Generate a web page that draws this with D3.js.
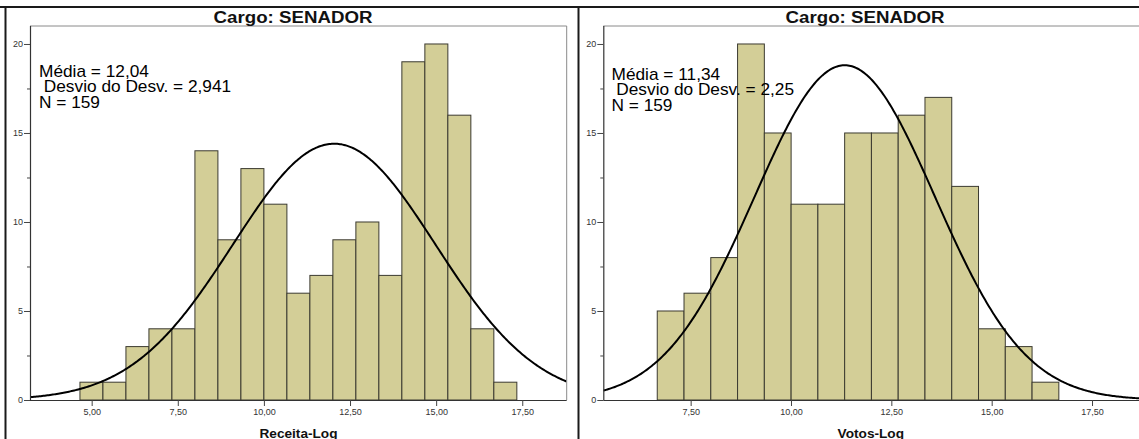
<!DOCTYPE html>
<html>
<head>
<meta charset="utf-8">
<script src="https://cdn.jsdelivr.net/npm/d3@7"></script>
<style>
  body { margin: 0; background: #fff; }
  svg { display: block; }
  text { font-family: "Liberation Sans", Arial, sans-serif; }
</style>
</head>
<body>
<svg id="chart" width="1139" height="439"></svg>
<script>
// ---- Receita-Log histogram (Cargo: SENADOR) ----
const receitaCounts = [1, 1, 3, 4, 4, 14, 9, 13, 11, 6, 7, 9, 10, 7, 19, 20, 16, 4, 1];
const receitaBinStart = 4.66;
const receitaBinWidth = 0.6675;
const receitaRange = [3.21, 18.79];
const receitaMean = 12.04;
const receitaSd = 2.941;
const receitaN = 159;
const receitaStatsText = ["Média = 12,04", " Desvio do Desv. = 2,941", "N = 159"];
const receitaTicks = [5, 7.5, 10, 12.5, 15, 17.5];

// ---- Votos-Log histogram (Cargo: SENADOR) ----
const votosCounts = [5, 6, 8, 20, 15, 11, 11, 15, 15, 16, 17, 12, 4, 3, 1];
const votosBinStart = 6.668;
const votosBinWidth = 0.667;
const votosRange = [5.324, 18.72];
const votosMean = 11.34;
const votosSd = 2.25;
const votosN = 159;
const votosStatsText = ["Média = 11,34", " Desvio do Desv. = 2,25", "N = 159"];
const votosTicks = [7.5, 10, 12.5, 15, 17.5];

// ---- shared frequency axis ----
const yMajorTicks = [0, 5, 10, 15, 20];
const yMinorTicks = [2.5, 7.5, 12.5, 17.5];
const yMax = 21.01;
const panelTitle = "Cargo: SENADOR";

const ptBR = d3.formatLocale({ decimal: ",", thousands: ".", grouping: [3], currency: ["R$", ""] });
const fmt2 = ptBR.format(".2f");

const svg = d3.select("#chart");

// outer frame of the two-panel output
svg.append("line").attr("x1", 0).attr("x2", 1139).attr("y1", 7).attr("y2", 7)
  .attr("stroke", "#1a1a1a").attr("stroke-width", 2);
svg.append("line").attr("x1", 5.5).attr("x2", 5.5).attr("y1", 6).attr("y2", 439)
  .attr("stroke", "#1a1a1a").attr("stroke-width", 2);
svg.append("line").attr("x1", 578.5).attr("x2", 578.5).attr("y1", 6).attr("y2", 439)
  .attr("stroke", "#1a1a1a").attr("stroke-width", 2);

function stretchedText(parent, x, y, str, sx, anchor) {
  return parent.append("text")
    .attr("transform", `translate(${x},${y}) scale(${sx},1)`)
    .attr("text-anchor", anchor)
    .style("white-space", "pre")
    .text(str);
}

function drawPanel(p) {
  const g = svg.append("g");
  const top = 26, bottom = 400;
  const x = d3.scaleLinear().domain(p.range).range([p.left, p.right]);
  const y = d3.scaleLinear().domain([0, yMax]).range([bottom, top]);

  const clipId = "clip-" + p.id;
  g.append("clipPath").attr("id", clipId).append("rect")
    .attr("x", p.left).attr("y", top).attr("width", p.right - p.left).attr("height", bottom - top);

  // histogram bars
  const bins = p.counts.map((c, i) => ({
    x0: p.binStart + i * p.binWidth,
    x1: p.binStart + (i + 1) * p.binWidth,
    count: c
  }));
  g.append("g").selectAll("rect").data(bins).join("rect")
    .attr("x", d => x(d.x0))
    .attr("width", d => x(d.x1) - x(d.x0))
    .attr("y", d => y(d.count))
    .attr("height", d => y(0) - y(d.count))
    .attr("fill", "#d3ce97")
    .attr("stroke", "#3b3a30")
    .attr("stroke-width", 1);

  // fitted normal curve scaled to counts per bin
  const scaleFactor = p.n * p.binWidth / (p.sd * Math.sqrt(2 * Math.PI));
  const normal = v => scaleFactor * Math.exp(-0.5 * Math.pow((v - p.mean) / p.sd, 2));
  const xs = d3.range(0, 401).map(i => p.range[0] + (p.range[1] - p.range[0]) * i / 400);
  g.append("path")
    .datum(xs)
    .attr("clip-path", `url(#${clipId})`)
    .attr("fill", "none")
    .attr("stroke", "#000")
    .attr("stroke-width", 2)
    .attr("d", d3.line().x(v => x(v)).y(v => y(normal(v))).curve(d3.curveLinear));

  // plot frame (top and right in light grey)
  g.append("path")
    .attr("d", `M${p.left},${top}H${p.right}V${bottom}`)
    .attr("fill", "none").attr("stroke", "#8a8a8a").attr("stroke-width", 1);

  // y axis with major and minor ticks
  const yAxis = g.append("g").attr("transform", `translate(${p.left},0)`)
    .call(d3.axisLeft(y).tickValues(yMajorTicks).tickSize(6).tickPadding(1).tickFormat(d3.format("d")));
  const yMinor = g.append("g").attr("transform", `translate(${p.left},0)`)
    .call(d3.axisLeft(y).tickValues(yMinorTicks).tickSize(3).tickFormat(""));
  yMinor.select(".domain").remove();

  // x axis
  const xAxis = g.append("g").attr("transform", `translate(0,${bottom})`)
    .call(d3.axisBottom(x).tickValues(p.ticks).tickSize(6).tickPadding(3).tickFormat(fmt2));

  [yAxis, yMinor, xAxis].forEach(a => {
    a.selectAll(".domain").attr("stroke", "#333").attr("stroke-width", 1.2);
    a.selectAll(".tick line").attr("stroke", "#444");
    a.selectAll(".tick text").attr("fill", "#333").style("font-size", "9px")
      .style("font-family", "'Liberation Sans', Arial, sans-serif");
  });
  xAxis.select(".domain").attr("d", `M${p.left},0.5H${p.right}`);
  yAxis.select(".domain").attr("d", `M0.5,${top}V${bottom}`);

  // panel title
  stretchedText(g, p.titleX, 22.5, panelTitle, 1.1, "middle")
    .style("font-size", "17px").style("font-weight", "bold").attr("fill", "#111");

  // axis title
  stretchedText(g, p.axisTitleX, 437.5, p.axisTitle, 1.05, "middle")
    .style("font-size", "13px").style("font-weight", "bold").attr("fill", "#111");

  // summary statistics
  p.stats.forEach((line, i) => {
    stretchedText(g, p.statsX, p.statsY + i * 15.5, line, 1.08, "start")
      .style("font-size", "16px").attr("fill", "#000");
  });
}

drawPanel({
  id: "receita", counts: receitaCounts, binStart: receitaBinStart, binWidth: receitaBinWidth,
  range: receitaRange, mean: receitaMean, sd: receitaSd, n: receitaN, ticks: receitaTicks,
  stats: receitaStatsText, axisTitle: "Receita-Log",
  left: 30, right: 566.7, titleX: 293, axisTitleX: 298.5, statsX: 39, statsY: 76.5
});

drawPanel({
  id: "votos", counts: votosCounts, binStart: votosBinStart, binWidth: votosBinWidth,
  range: votosRange, mean: votosMean, sd: votosSd, n: votosN, ticks: votosTicks,
  stats: votosStatsText, axisTitle: "Votos-Log",
  left: 603.3, right: 1141, titleX: 865, axisTitleX: 870.8, statsX: 611.5, statsY: 79.5
});
</script>
</body>
</html>
